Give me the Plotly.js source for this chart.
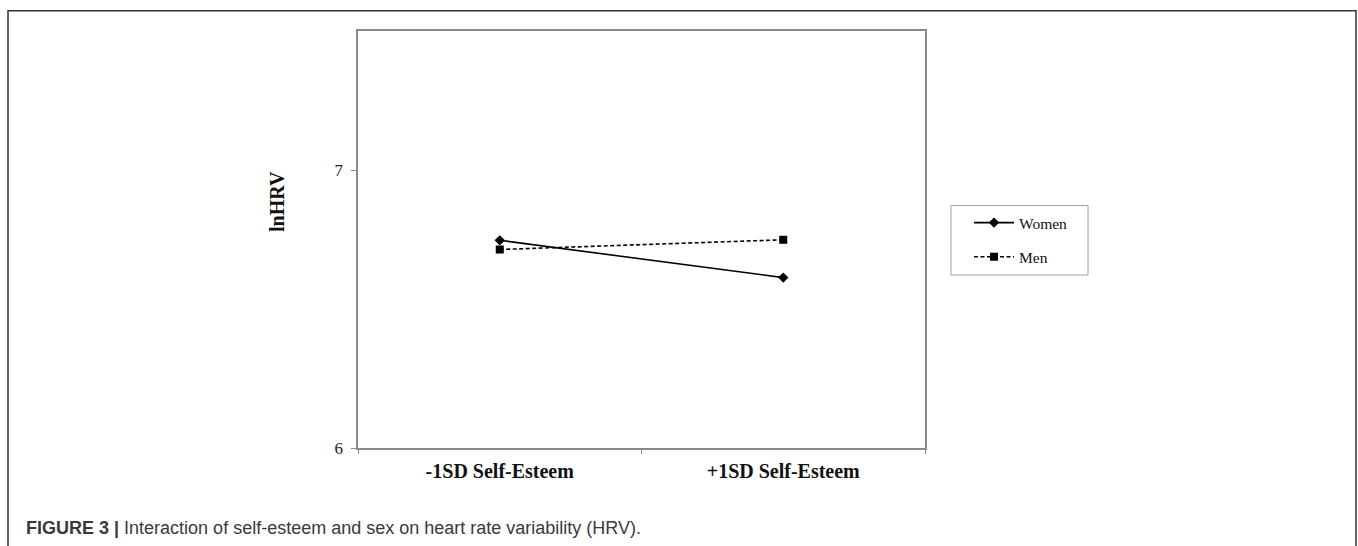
<!DOCTYPE html>
<html>
<head>
<meta charset="utf-8">
<script src="https://cdn.plot.ly/plotly-3.0.1.min.js"></script>
<style>
  html, body { margin: 0; padding: 0; background: #ffffff; }
  #chart { width: 1358px; height: 546px; }
</style>
</head>
<body>
<div id="chart"></div>
<script>
// ---- data ----
const categories = ['-1SD Self-Esteem', '+1SD Self-Esteem'];
const women = [6.747, 6.613];
const men = [6.714, 6.749];
const seriesNames = ['Women', 'Men'];
const yTickVals = [6, 7];
const yTickText = ['6', '7'];
const yAxisLabel = 'lnHRV';
const captionBold = 'FIGURE 3 |';
const captionText = 'Interaction of self-esteem and sex on heart rate variability (HRV).';

// ---- layout helpers (pixel -> paper) ----
const W = 1358, H = 546;
const m = { l: 358, r: 433, t: 31, b: 98 };
const pw = W - m.l - m.r, ph = H - m.t - m.b;
const px = x => (x - m.l) / pw;
const py = y => (H - m.b - y) / ph;

const serif = 'Liberation Serif, Times New Roman, serif';
const sans = 'Liberation Sans, Arial, sans-serif';

const traces = [
  {
    x: categories, y: women, name: seriesNames[0], type: 'scatter', mode: 'lines+markers',
    line: { color: '#000000', width: 1.6 },
    marker: { symbol: 'diamond', size: 8, color: '#000000' },
    legendgroup: 'a'
  },
  {
    x: categories, y: men, name: seriesNames[1], type: 'scatter', mode: 'lines+markers',
    line: { color: '#000000', width: 1.6, dash: '4px,2.5px' },
    marker: { symbol: 'square', size: 8, color: '#000000' },
    legendgroup: 'b'
  }
];

const layout = {
  width: W, height: H,
  margin: m,
  paper_bgcolor: '#ffffff', plot_bgcolor: '#ffffff',
  showlegend: true,
  legend: {
    x: px(969), y: py(206), xanchor: 'left', yanchor: 'top',
    borderwidth: 0, bgcolor: 'rgba(0,0,0,0)',
    font: { family: serif, size: 15.5, color: '#111111' },
    tracegroupgap: 11,
    itemwidth: 40
  },
  xaxis: {
    type: 'category',
    range: [-0.5, 1.5],
    showline: true, mirror: true, linecolor: '#8a8a8a', linewidth: 1.6,
    ticks: 'outside', tickson: 'boundaries', ticklen: 4, tickcolor: '#8a8a8a',
    showgrid: false, zeroline: false,
    tickfont: { family: serif, size: 20, color: '#111111', weight: 'bold' },
    ticklabelstandoff: 4
  },
  yaxis: {
    range: [6, 7.5],
    tickvals: yTickVals, ticktext: yTickText,
    showline: true, mirror: true, linecolor: '#8a8a8a', linewidth: 1.6,
    ticks: 'outside', ticklen: 5, tickcolor: '#8a8a8a',
    showgrid: false, zeroline: false,
    tickfont: { family: serif, size: 17, color: '#222222' },
    ticklabelstandoff: 5
  },
  shapes: [
    {
      type: 'rect', xref: 'paper', yref: 'paper',
      x0: px(8), x1: px(1356), y0: py(600), y1: py(10.7),
      line: { color: '#333333', width: 1.5 }, fillcolor: 'rgba(0,0,0,0)', layer: 'below'
    },
    {
      type: 'rect', xref: 'paper', yref: 'paper',
      x0: px(951), x1: px(1088), y0: py(275), y1: py(205.5),
      line: { color: '#a0a0a0', width: 1 }, fillcolor: 'rgba(0,0,0,0)', layer: 'below'
    }
  ],
  annotations: [
    {
      text: '<b>' + yAxisLabel + '</b>', textangle: -90,
      xref: 'paper', yref: 'paper', x: px(277), y: py(202),
      xanchor: 'center', yanchor: 'middle', showarrow: false,
      font: { family: serif, size: 20, color: '#111111' }
    },
    {
      text: '<b>' + captionBold + '</b> ' + captionText,
      xref: 'paper', yref: 'paper', x: px(24), y: py(528),
      xanchor: 'left', yanchor: 'middle', showarrow: false,
      font: { family: sans, size: 18, color: '#3a3a3a' }
    }
  ]
};

Plotly.newPlot('chart', traces, layout, { displayModeBar: false, staticPlot: true });
</script>
</body>
</html>
